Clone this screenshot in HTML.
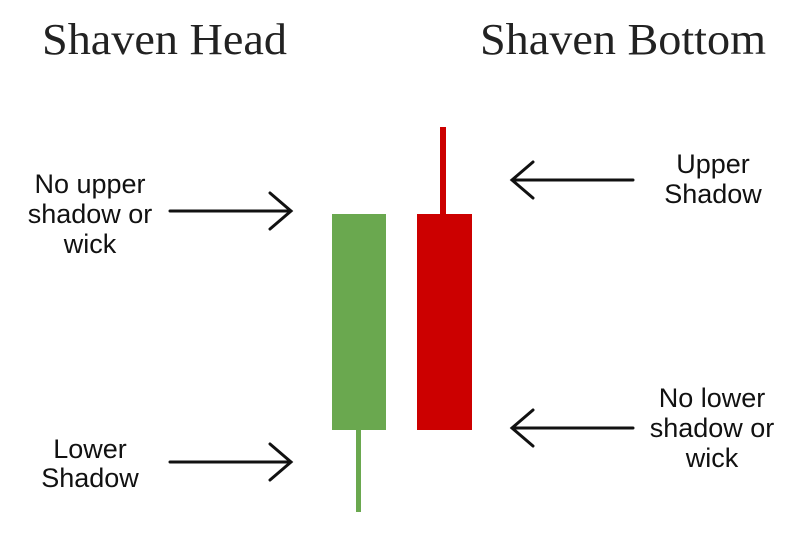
<!DOCTYPE html>
<html><head><style>
html,body{margin:0;padding:0;background:#fff;}
svg{display:block;}
.t{font-family:"Liberation Serif",serif;font-size:44px;fill:#222;}
.l{font-family:"Liberation Sans",sans-serif;font-size:27px;fill:#111;text-anchor:middle;}
</style></head><body>
<svg width="800" height="560" viewBox="0 0 800 560" xmlns="http://www.w3.org/2000/svg">
<rect width="800" height="560" fill="#fff"/>
<text class="t" x="42" y="54" textLength="245" lengthAdjust="spacingAndGlyphs">Shaven Head</text>
<text class="t" x="480" y="54" textLength="286" lengthAdjust="spacingAndGlyphs">Shaven Bottom</text>
<rect x="332" y="214" width="54" height="216" fill="#6aa84f"/>
<rect x="356" y="430" width="5" height="82" fill="#6aa84f"/>
<rect x="417" y="214" width="55" height="216" fill="#cc0000"/>
<rect x="440" y="127" width="6" height="87" fill="#cc0000"/>
<g stroke="#111" stroke-width="3" fill="none" stroke-linecap="round">
<path d="M170 211H291M270 193L291 211L270 229"/>
<path d="M170 462H291M270 444L291 462L270 480"/>
<path d="M633 180H512M533 162L512 180L533 198"/>
<path d="M633 428H512M533 410L512 428L533 446"/>
</g>
<text class="l" x="90" y="193">No upper</text>
<text class="l" x="90" y="223">shadow or</text>
<text class="l" x="90" y="253">wick</text>
<text class="l" x="90" y="458">Lower</text>
<text class="l" x="90" y="487">Shadow</text>
<text class="l" x="713" y="173">Upper</text>
<text class="l" x="713" y="203">Shadow</text>
<text class="l" x="712" y="407">No lower</text>
<text class="l" x="712" y="437">shadow or</text>
<text class="l" x="712" y="467">wick</text>
</svg>
</body></html>
